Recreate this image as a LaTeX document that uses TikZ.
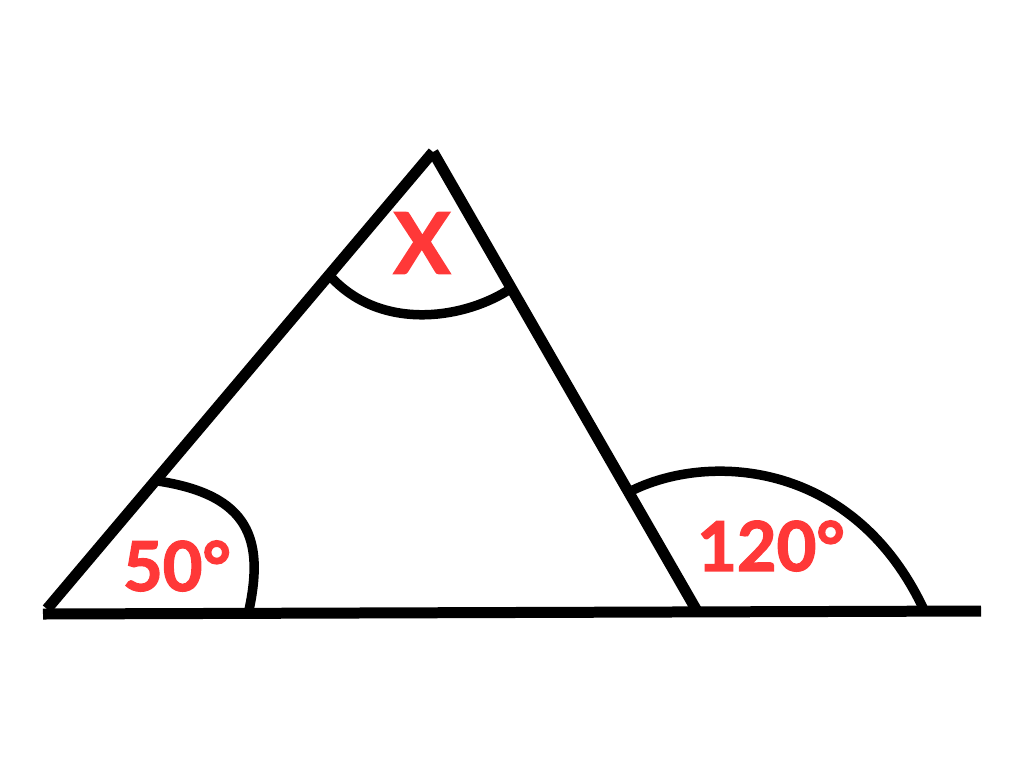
\documentclass[tikz,border=0pt]{standalone}
\usepackage{fontspec}
\setmainfont{Lato}[BoldFeatures={FakeBold=2}]
\usetikzlibrary{positioning}
\definecolor{mred}{RGB}{255, 56, 56}
\tikzset{side/.style = {line width=0.22cm, black}}
\tikzset{angarc/.style = {line width=0.19cm, black}}
\tikzset{anglbl/.style = {mred, font=\fontsize{39}{39}\selectfont\bfseries}}
\tikzset{unknown/.style = {mred, font=\fontsize{48}{48}\selectfont\bfseries}}

\begin{document}
\begin{tikzpicture}[x=0.02cm, y=-0.02cm]
      \useasboundingbox (0, 0) rectangle (1024, 768);
      \coordinate (A) at (47, 609);
      \coordinate (B) at (433, 152);
      \coordinate (C) at (697, 611);
      \coordinate (L) at (43, 614);
      \coordinate (R) at (981, 611);
      \draw [side] (L) -- (R);
      \draw [side] (A) -- (B);
      \draw [side] (B) -- (C);
      % angle marks
      \coordinate (a1) at (158, 481);
      \coordinate (a2) at (249, 610);
      \coordinate (b1) at (331, 277);
      \coordinate (b2) at (507, 291);
      \coordinate (c1) at (633, 490);
      \coordinate (c2) at (924, 610);
      \draw [angarc] (a1) .. controls (250, 495) and (264, 540) .. (a2);
      \draw [angarc] (b1) .. controls (380, 330) and (460, 320) .. (b2);
      \draw [angarc] (c1) .. controls (712, 452) and (855, 462) .. (c2);
      \node [anglbl] (lblA) at (177, 566) {50°};
      \node [unknown] (lblB) at (422, 243) {X};
      \node [anglbl] (lblC) at (771, 546) {120°};
    \end{tikzpicture}
\end{document}
